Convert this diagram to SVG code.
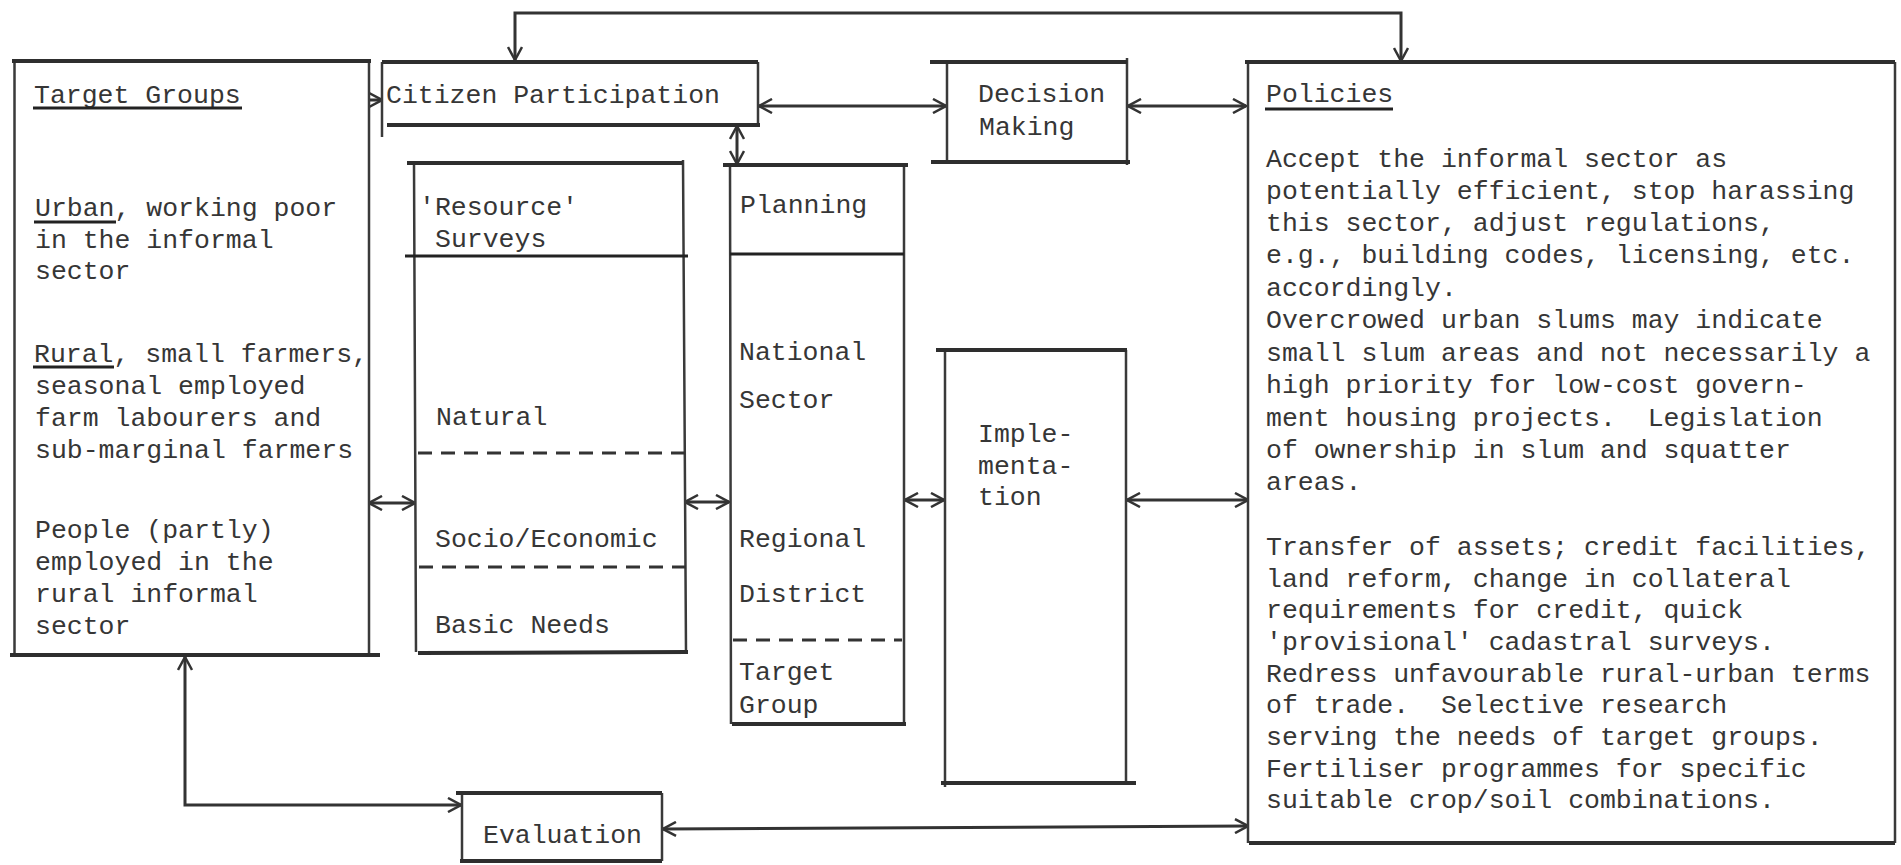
<svg xmlns="http://www.w3.org/2000/svg" width="1901" height="865" viewBox="0 0 1901 865">
<style>
  .t { font-family: "Liberation Mono", "DejaVu Sans Mono", monospace; font-size: 26.5px; fill: #363636; white-space: pre; }
  .side { stroke: #3a3a3a; stroke-width: 2.5; fill: none; }
  .edge { stroke: #2e2e2e; stroke-width: 4; fill: none; }
  .ul { stroke: #222; stroke-width: 3; fill: none; }
  .dash { stroke: #333; stroke-width: 3; stroke-dasharray: 14 9; fill: none; }
  .conn { stroke: #333; stroke-width: 3; fill: none; }
</style>
<defs>
  <marker id="ah" viewBox="0 0 16 16" refX="15" refY="8" markerWidth="16" markerHeight="16" markerUnits="userSpaceOnUse" orient="auto-start-reverse">
    <path d="M2,1 L15,8 L2,15" fill="none" stroke="#333" stroke-width="2.5"/>
  </marker>
</defs>
<rect width="1901" height="865" fill="#ffffff"/>

<g id="connectors">
  <path class="conn" d="M515,60 L515,13 L1401,13 L1401,61" marker-start="url(#ah)" marker-end="url(#ah)"/>
  <path class="conn" d="M369,100 L382,100" marker-end="url(#ah)"/>
  <path class="conn" d="M759,106 L946,106" marker-start="url(#ah)" marker-end="url(#ah)"/>
  <path class="conn" d="M1128,106 L1246,106" marker-start="url(#ah)" marker-end="url(#ah)"/>
  <path class="conn" d="M737,126 L737,164" marker-start="url(#ah)" marker-end="url(#ah)"/>
  <path class="conn" d="M369,503 L415,503" marker-start="url(#ah)" marker-end="url(#ah)"/>
  <path class="conn" d="M685,502 L729,502" marker-start="url(#ah)" marker-end="url(#ah)"/>
  <path class="conn" d="M905,500 L944,500" marker-start="url(#ah)" marker-end="url(#ah)"/>
  <path class="conn" d="M1127,500 L1248,500" marker-start="url(#ah)" marker-end="url(#ah)"/>
  <path class="conn" d="M185,657 L185,805 L461,805" marker-start="url(#ah)" marker-end="url(#ah)"/>
  <path class="conn" d="M663,829 L1248,826" marker-start="url(#ah)" marker-end="url(#ah)"/>
</g>

<g id="target-groups">
  <path class="side" d="M14.5,61 L14.5,655 M369,61 L369,655"/>
  <path class="edge" d="M12,61 L371,61 M10,655 L380,655"/>
  <text class="t" x="34" y="103">Target Groups</text>
  <path class="ul" d="M33,108 L242,108"/>
  <text class="t" x="35" y="216">Urban, working poor</text>
  <path class="ul" d="M34,222 L116,222"/>
  <text class="t" x="35" y="248">in the informal</text>
  <text class="t" x="35" y="279">sector</text>
  <text class="t" x="34" y="362">Rural, small farmers,</text>
  <path class="ul" d="M33,367 L114,367"/>
  <text class="t" x="35" y="394">seasonal employed</text>
  <text class="t" x="35" y="426">farm labourers and</text>
  <text class="t" x="35" y="458">sub-marginal farmers</text>
  <text class="t" x="35" y="538">People (partly)</text>
  <text class="t" x="35" y="570">employed in the</text>
  <text class="t" x="35" y="602">rural informal</text>
  <text class="t" x="35" y="634">sector</text>
</g>

<g id="citizen-participation">
  <path class="side" d="M382,62 L382,137 M758,62 L758,125"/>
  <path class="edge" d="M382,62 L758,62 M387,125 L760,125"/>
  <text class="t" x="386" y="103">Citizen Participation</text>
</g>

<g id="decision-making">
  <path class="side" d="M947,62 L947,162 M1127,58 L1127,165"/>
  <path class="edge" d="M930,62 L1127,62 M931,162 L1130,162"/>
  <text class="t" x="978" y="102">Decision</text>
  <text class="t" x="979" y="135">Making</text>
</g>

<g id="policies">
  <path class="side" d="M1248,62 L1248,843 M1895,62 L1895,843"/>
  <path class="edge" d="M1245,62 L1895,62 M1249,843 L1895,843"/>
  <text class="t" x="1266" y="102">Policies</text>
  <path class="ul" d="M1265,109 L1393,109"/>
  <text class="t" x="1266" y="167">Accept the informal sector as</text>
  <text class="t" x="1266" y="199">potentially efficient, stop harassing</text>
  <text class="t" x="1266" y="231">this sector, adjust regulations,</text>
  <text class="t" x="1266" y="263">e.g., building codes, licensing, etc.</text>
  <text class="t" x="1266" y="296">accordingly.</text>
  <text class="t" x="1266" y="328">Overcrowed urban slums may indicate</text>
  <text class="t" x="1266" y="361">small slum areas and not necessarily a</text>
  <text class="t" x="1266" y="393">high priority for low-cost govern-</text>
  <text class="t" x="1266" y="426" xml:space="preserve">ment housing projects.  Legislation</text>
  <text class="t" x="1266" y="458">of ownership in slum and squatter</text>
  <text class="t" x="1266" y="490">areas.</text>
  <text class="t" x="1266" y="555">Transfer of assets; credit facilities,</text>
  <text class="t" x="1266" y="587">land reform, change in collateral</text>
  <text class="t" x="1266" y="618">requirements for credit, quick</text>
  <text class="t" x="1266" y="650">'provisional' cadastral surveys.</text>
  <text class="t" x="1266" y="682">Redress unfavourable rural-urban terms</text>
  <text class="t" x="1266" y="713" xml:space="preserve">of trade.  Selective research</text>
  <text class="t" x="1266" y="745">serving the needs of target groups.</text>
  <text class="t" x="1266" y="777">Fertiliser programmes for specific</text>
  <text class="t" x="1266" y="808">suitable crop/soil combinations.</text>
</g>

<g id="resource-surveys">
  <path class="side" d="M414,163 L416,652 M683,160 L686,652"/>
  <path class="edge" d="M407,163 L683,163 M418,653 L688,652"/>
  <path class="ul" d="M405,256 L688,256"/>
  <path class="dash" d="M418,453 L685,453"/>
  <path class="dash" d="M419,567 L686,567"/>
  <text class="t" x="419" y="215">'Resource'</text>
  <text class="t" x="435" y="247">Surveys</text>
  <text class="t" x="436" y="425">Natural</text>
  <text class="t" x="435" y="547">Socio/Economic</text>
  <text class="t" x="435" y="633">Basic Needs</text>
</g>

<g id="planning">
  <path class="side" d="M730,165 L731,724 M904,165 L904,724"/>
  <path class="edge" d="M723,165 L908,165 M732,724 L906,724"/>
  <path class="ul" d="M730,254 L904,254"/>
  <path class="dash" d="M733,640 L902,640"/>
  <text class="t" x="740" y="213">Planning</text>
  <text class="t" x="739" y="360">National</text>
  <text class="t" x="739" y="408">Sector</text>
  <text class="t" x="739" y="547">Regional</text>
  <text class="t" x="739" y="602">District</text>
  <text class="t" x="739" y="680">Target</text>
  <text class="t" x="739" y="713">Group</text>
</g>

<g id="implementation">
  <path class="side" d="M945,348 L945,787 M1126,350 L1126,783"/>
  <path class="edge" d="M936,350 L1127,350 M941,783 L1136,783"/>
  <text class="t" x="978" y="442">Imple-</text>
  <text class="t" x="978" y="474">menta-</text>
  <text class="t" x="978" y="505">tion</text>
</g>

<g id="evaluation">
  <path class="side" d="M462,793 L462,861 M662,793 L662,861"/>
  <path class="edge" d="M456,793 L662,793 M460,861 L662,861"/>
  <text class="t" x="483" y="843">Evaluation</text>
</g>
</svg>
